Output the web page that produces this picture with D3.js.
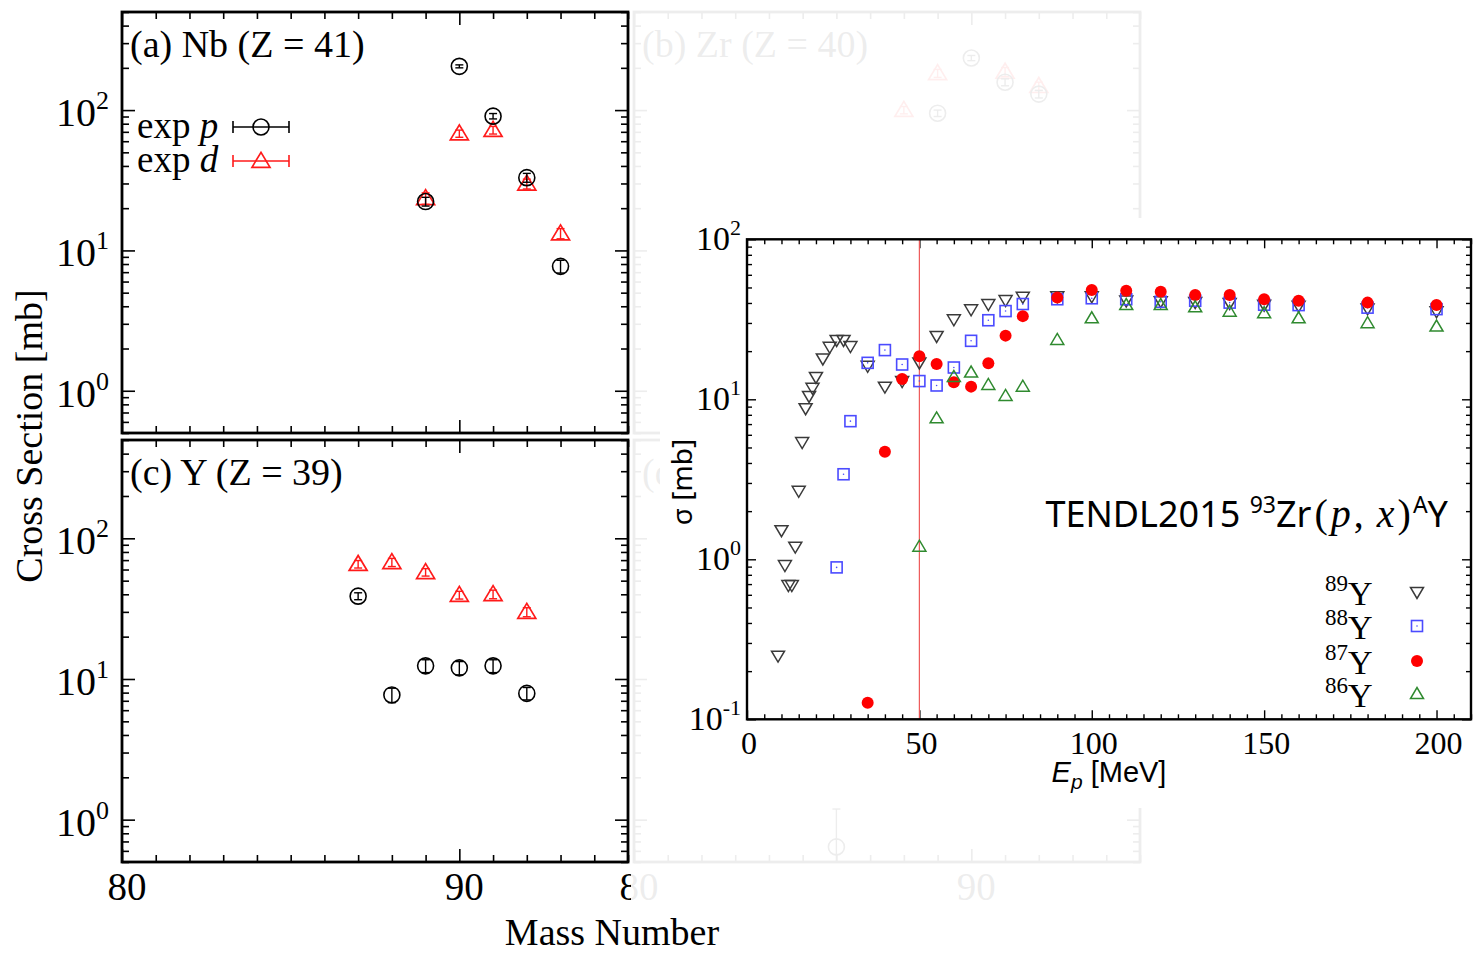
<!DOCTYPE html>
<html>
<head>
<meta charset="utf-8">
<script src="https://cdn.jsdelivr.net/npm/d3@7"></script>
<style>
  html, body { margin: 0; padding: 0; background: #fff; }
  svg { display: block; }
</style>
</head>
<body>
<svg id="fig" width="1474" height="954"></svg>
<script>
// ---------------- measured cross sections (mb) vs mass number ----------------
const massNb = [89, 90, 91, 92, 93];
const nbProton = [22.3, 205, 90.5, 33, 7.7];
const nbProtonErr = [1.6, 5, 4, 2.4, 0.8];
const nbDeuteron = [23.5, 68, 72, 29.8, 13.2];
const nbDeuteronErr = [2.2, 4, 4.5, 2.4, 1.1];

const massZrProton = [89, 90, 91, 92];
const zrProton = [95, 235, 158, 130];
const zrProtonErr = [5, 10, 9, 8];
const massZrDeuteron = [88, 89, 91, 92];
const zrDeuteron = [100, 183, 187, 148];
const zrDeuteronErr = [6, 12, 14, 10];

const massY = [87, 88, 89, 90, 91, 92];
const yProton = [38.8, 7.7, 12.4, 12.0, 12.4, 7.9];
const yProtonErr = [2.2, 0.9, 1.3, 1.3, 1.3, 0.8];
const yDeuteron = [65.5, 67.5, 57.4, 39.5, 40, 29.9];
const yDeuteronErr = [4, 4.5, 3.5, 2.5, 2.8, 2.2];

const massSr = [86];
const srProton = [0.64];
const srProtonErr = [0.55];

const massTickLabels = [80, 90];

// ---------------- TENDL-2015 93Zr(p,x)AY excitation functions ----------------
const energy89 = [9, 10, 11, 12, 13, 14, 15, 16, 17, 18, 19, 20, 22, 24, 26, 28, 30, 35, 40, 45, 50,
                  55, 60, 65, 70, 75, 80, 90, 100, 110, 120, 130, 140, 150, 160, 180, 200];
const sigma89 = [0.25, 1.52, 0.92, 0.69, 0.69, 1.20, 2.68, 5.4, 8.8, 10.5, 11.8, 13.8, 18.0, 21.3, 23.5, 23.5, 21.5, 16.2, 12.0, 13.0, 17.0,
                 24.9, 31.6, 36.5, 39.4, 41.7, 43.7, 44, 44, 41.5, 41, 40.5, 40, 39, 38.5, 37, 35.5];

const energy88 = [26, 28, 30, 35, 40, 45, 50, 55, 60, 65, 70, 75, 80, 90, 100, 110, 120, 130, 140, 150, 160, 180, 200];
const sigma88 = [0.89, 3.4, 7.3, 16.9, 20.3, 16.5, 13.0, 12.2, 15.8, 23.2, 31.2, 35.6, 39.4, 42.2, 42.8, 42.2, 40.7, 41.3, 40.2, 39.0, 38.8, 37.4, 36.6];

const energy87 = [35, 40, 45, 50, 55, 60, 65, 70, 75, 80, 90, 100, 110, 120, 130, 140, 150, 160, 180, 200];
const sigma87 = [0.127, 4.7, 13.4, 18.6, 16.6, 12.8, 12.0, 16.8, 25.0, 33.1, 43.2, 48.2, 47.7, 47.0, 44.9, 44.9, 42.2, 41.3, 40.2, 38.8];

const energy86 = [50, 55, 60, 65, 70, 75, 80, 90, 100, 110, 120, 130, 140, 150, 160, 180, 200];
const sigma86 = [1.2, 7.6, 13.8, 14.7, 12.3, 10.5, 12.0, 23.5, 32.1, 38.8, 38.8, 37.6, 35.3, 34.5, 32.1, 29.9, 28.5];

const energyTickLabels = [0, 50, 100, 150, 200];
const sigmaDecades = [-1, 0, 1, 2];
const cutEnergy = 50;

// ---------------- drawing ----------------
const SERIF = '"Liberation Serif", "Times New Roman", serif';
const SANS = '"Noto Sans", "Open Sans", sans-serif';
const svg = d3.select('#fig');

const xLeft = d3.scaleLinear().domain([80, 95]).range([122, 628]);
const xRight = d3.scaleLinear().domain([80, 95]).range([634, 1140]);
const yUpper = d3.scaleLog().domain([0.5, 500]).range([433, 12]);
const yLower = d3.scaleLog().domain([0.5, 500]).range([862, 440]);

function logMinor(domain) {
  const out = [];
  const lo = Math.floor(Math.log10(domain[0])), hi = Math.ceil(Math.log10(domain[1]));
  for (let e = lo; e <= hi; e++) for (let k = 2; k <= 9; k++) {
    const v = k * Math.pow(10, e);
    if (v >= domain[0] && v <= domain[1]) out.push(v);
  }
  return out;
}
function logMajor(domain) {
  const out = [];
  const lo = Math.floor(Math.log10(domain[0])), hi = Math.ceil(Math.log10(domain[1]));
  for (let e = lo; e <= hi; e++) {
    const v = Math.pow(10, e);
    if (v >= domain[0] * 0.9999 && v <= domain[1] * 1.0001) out.push(v);
  }
  return out;
}

// ticks on all four sides, pointing inward
function tickSet(g, x, y, xMajor, xMinor, yMajor, yMinor, lenMajor, lenMinor, width) {
  const [x0, x1] = x.range();
  const [yb, yt] = y.range();
  const place = (axis, tx, ty) => {
    const a = g.append('g').attr('transform', `translate(${tx},${ty})`).call(axis);
    a.select('.domain').remove();
    a.selectAll('text').remove();
    a.selectAll('line').attr('stroke', '#000').attr('stroke-width', width);
  };
  [[xMajor, lenMajor], [xMinor, lenMinor]].forEach(([vals, len]) => {
    place(d3.axisBottom(x).tickValues(vals).tickSize(-len).tickFormat(''), 0, yb);
    place(d3.axisTop(x).tickValues(vals).tickSize(-len).tickFormat(''), 0, yt);
  });
  [[yMajor, lenMajor], [yMinor, lenMinor]].forEach(([vals, len]) => {
    place(d3.axisLeft(y).tickValues(vals).tickSize(-len).tickFormat(''), x0, 0);
    place(d3.axisRight(y).tickValues(vals).tickSize(-len).tickFormat(''), x1, 0);
  });
}

function powerLabel(g, xr, yy, exp, size, supSize, dyMain, dySup) {
  const t = g.append('text').attr('x', xr).attr('y', yy + dyMain)
    .attr('text-anchor', 'end').attr('font-family', SERIF).attr('font-size', size).attr('fill', '#000');
  t.append('tspan').text('10');
  t.append('tspan').attr('font-size', supSize).attr('dy', -dySup).text(exp);
}

function openCircle(g, cx, cy, color) {
  g.append('circle').attr('cx', cx).attr('cy', cy).attr('r', 8)
    .attr('fill', 'none').attr('stroke', color).attr('stroke-width', 1.6);
}
function openTriangle(g, cx, cy, color, w, h, sw) {
  g.append('path')
    .attr('d', `M${cx - w / 2},${cy + h * 0.42}L${cx + w / 2},${cy + h * 0.42}L${cx},${cy - h * 0.58}Z`)
    .attr('fill', 'none').attr('stroke', color).attr('stroke-width', sw).attr('stroke-linejoin', 'miter');
}
function vErrorBar(g, cx, y, v, err, color, clipTop, clipBottom) {
  const ya = Math.max(clipTop, y(v + err));
  const lower = v - err > 0 ? y(v - err) : clipBottom;
  const yb = Math.min(clipBottom, lower);
  g.append('line').attr('x1', cx).attr('x2', cx).attr('y1', ya).attr('y2', yb)
    .attr('stroke', color).attr('stroke-width', 1.4);
  [ya, yb].forEach(yy => {
    if (yy > clipTop && yy < clipBottom)
      g.append('line').attr('x1', cx - 4).attr('x2', cx + 4).attr('y1', yy).attr('y2', yy)
        .attr('stroke', color).attr('stroke-width', 1.4);
  });
}

function massPanel(x, y, title, proton, deuteron, showYLabels, showXLabels) {
  const g = svg.append('g');
  const [yb, yt] = y.range();
  const ints = d3.range(80, 96);
  tickSet(g, x, y, [80, 90], ints.filter(v => v % 10 !== 0),
          logMajor(y.domain()), logMinor(y.domain()), 13, 7, 1.6);
  g.append('rect').attr('x', x.range()[0]).attr('y', yt)
    .attr('width', x.range()[1] - x.range()[0]).attr('height', yb - yt)
    .attr('fill', 'none').attr('stroke', '#000').attr('stroke-width', 2.8);
  g.append('text').attr('x', x.range()[0] + 8).attr('y', yt + 45)
    .attr('font-family', SERIF).attr('font-size', 38).attr('fill', '#000').text(title);

  if (showYLabels) {
    logMajor(y.domain()).forEach(v => powerLabel(g, x.range()[0] - 13, y(v), String(Math.round(Math.log10(v))), 40, 26, 16, 17));
  }
  if (showXLabels) {
    massTickLabels.forEach(m => g.append('text').attr('x', x(m) + 5).attr('y', 900)
      .attr('text-anchor', 'middle').attr('font-family', SERIF).attr('font-size', 39).attr('fill', '#000').text(m));
  }
  if (deuteron) deuteron.mass.forEach((m, i) => {
    openTriangle(g, x(m), y(deuteron.v[i]), '#ff1a1a', 18, 15, 1.7);
    vErrorBar(g, x(m), y, deuteron.v[i], deuteron.e[i], '#ff1a1a', yt, yb);
  });
  if (proton) proton.mass.forEach((m, i) => {
    openCircle(g, x(m), y(proton.v[i]), '#000');
    vErrorBar(g, x(m), y, proton.v[i], proton.e[i], '#000', yt, yb);
  });
  return g;
}

// panels (b) and (d) first so the fade can sit over them
massPanel(xRight, yUpper, '(b) Zr (Z = 40)',
  { mass: massZrProton, v: zrProton, e: zrProtonErr },
  { mass: massZrDeuteron, v: zrDeuteron, e: zrDeuteronErr }, false, false);
massPanel(xRight, yLower, '(d) Sr (Z = 38)',
  { mass: massSr, v: srProton, e: srProtonErr }, null, false, true);

// fade the right-hand column
svg.append('rect').attr('x', 631).attr('y', 0).attr('width', 530).attr('height', 912)
  .attr('fill', '#fff').attr('opacity', 0.93);

massPanel(xLeft, yUpper, '(a) Nb (Z = 41)',
  { mass: massNb, v: nbProton, e: nbProtonErr },
  { mass: massNb, v: nbDeuteron, e: nbDeuteronErr }, true, false);
massPanel(xLeft, yLower, '(c) Y (Z = 39)',
  { mass: massY, v: yProton, e: yProtonErr },
  { mass: massY, v: yDeuteron, e: yDeuteronErr }, true, true);

// legend of panel (a)
const leg = svg.append('g');
[['p', '#000', 127], ['d', '#ff1a1a', 161]].forEach(([sym, col, ly]) => {
  const t = leg.append('text').attr('x', 137).attr('y', ly + 11)
    .attr('font-family', SERIF).attr('font-size', 37).attr('fill', '#000');
  t.append('tspan').text('exp ');
  t.append('tspan').attr('font-style', 'italic').text(sym);
  leg.append('line').attr('x1', 233).attr('x2', 289).attr('y1', ly).attr('y2', ly).attr('stroke', col).attr('stroke-width', 1.6);
  [233, 289].forEach(xx => leg.append('line').attr('x1', xx).attr('x2', xx).attr('y1', ly - 6).attr('y2', ly + 6)
    .attr('stroke', col).attr('stroke-width', 1.6));
  if (sym === 'p') openCircle(leg, 261, ly, col);
  else openTriangle(leg, 261, ly, col, 18, 15, 1.7);
});

// shared axis titles
svg.append('text').attr('x', 612).attr('y', 945).attr('text-anchor', 'middle')
  .attr('font-family', SERIF).attr('font-size', 38).attr('fill', '#000').text('Mass Number');
svg.append('text').attr('transform', 'translate(42,436) rotate(-90)').attr('text-anchor', 'middle')
  .attr('font-family', SERIF).attr('font-size', 38).attr('fill', '#000').text('Cross Section [mb]');

// ---------------- inset: TENDL excitation functions ----------------
const ins = svg.append('g');
ins.append('rect').attr('x', 660).attr('y', 218).attr('width', 814).attr('height', 590).attr('fill', '#fff');

const xE = d3.scaleLinear().domain([0, 210]).range([747, 1471]);
const yS = d3.scaleLog().domain([0.1, 100]).range([719.3, 239.3]);
const [iyb, iyt] = yS.range();

tickSet(ins, xE, yS, d3.range(0, 211, 50), d3.range(0, 211, 5).filter(v => v % 50 !== 0),
        logMajor(yS.domain()), logMinor(yS.domain()), 9, 5, 1.4);

ins.append('line').attr('x1', xE(cutEnergy)).attr('x2', xE(cutEnergy)).attr('y1', iyt).attr('y2', iyb)
  .attr('stroke', '#ee5a5a').attr('stroke-width', 1.2);

ins.append('rect').attr('x', xE.range()[0]).attr('y', iyt)
  .attr('width', xE.range()[1] - xE.range()[0]).attr('height', iyb - iyt)
  .attr('fill', 'none').attr('stroke', '#000').attr('stroke-width', 2.4);

energyTickLabels.forEach(e => ins.append('text').attr('x', xE(e) + 2).attr('y', 754)
  .attr('text-anchor', 'middle').attr('font-family', SERIF).attr('font-size', 32).attr('fill', '#000').text(e));
sigmaDecades.forEach(d => powerLabel(ins, 741, yS(Math.pow(10, d)), String(d), 34, 22, 11, 15));

const xl = ins.append('text').attr('x', 1109).attr('y', 782).attr('text-anchor', 'middle')
  .attr('font-family', '"Liberation Sans", Arial, sans-serif').attr('font-size', 29).attr('fill', '#000');
xl.append('tspan').attr('font-style', 'italic').text('E');
xl.append('tspan').attr('font-style', 'italic').attr('font-size', 21).attr('dy', 7).text('p');
xl.append('tspan').attr('dy', -7).text(' [MeV]');

ins.append('text').attr('transform', 'translate(692,482) rotate(-90)').attr('text-anchor', 'middle')
  .attr('font-family', SANS).attr('font-size', 28).attr('fill', '#000').text('σ [mb]');

const ttl = ins.append('text').attr('x', 1448).attr('y', 527).attr('text-anchor', 'end')
  .attr('font-family', SANS).attr('font-size', 36).attr('fill', '#000');
ttl.append('tspan').text('TENDL2015 ');
ttl.append('tspan').attr('font-size', 23).attr('dy', -14).text('93');
ttl.append('tspan').attr('dy', 14).text('Zr');
const mathPart = [['(', false], ['p', true], [', ', false], ['x', true], [')', false]];
mathPart.forEach(([s, it]) => ttl.append('tspan').attr('font-family', SERIF).attr('font-size', 40)
  .attr('font-style', it ? 'italic' : 'normal').attr('dx', 3).text(s));
ttl.append('tspan').attr('font-size', 23).attr('dy', -14).attr('dx', 2).text('A');
ttl.append('tspan').attr('dy', 14).text('Y');

// marker shapes for the four residual nuclei
const markers = {
  down: (g, cx, cy) => g.append('path')
    .attr('d', `M${cx - 6.5},${cy - 4.5}L${cx + 6.5},${cy - 4.5}L${cx},${cy + 6.5}Z`)
    .attr('fill', 'none').attr('stroke', '#3a3a3a').attr('stroke-width', 1.5),
  square: (g, cx, cy) => {
    g.append('rect').attr('x', cx - 5.5).attr('y', cy - 5.5).attr('width', 11).attr('height', 11)
      .attr('fill', 'none').attr('stroke', '#4b4bff').attr('stroke-width', 1.6);
    g.append('circle').attr('cx', cx).attr('cy', cy).attr('r', 0.8).attr('fill', '#4b4bff');
  },
  dot: (g, cx, cy) => g.append('circle').attr('cx', cx).attr('cy', cy).attr('r', 6).attr('fill', '#ff0000'),
  up: (g, cx, cy) => g.append('path')
    .attr('d', `M${cx - 6.5},${cy + 4.5}L${cx + 6.5},${cy + 4.5}L${cx},${cy - 6.5}Z`)
    .attr('fill', 'none').attr('stroke', '#2f8a2f').attr('stroke-width', 1.5)
};

const nuclides = [
  { mass: '89', e: energy89, s: sigma89, m: markers.down, ly: 592 },
  { mass: '88', e: energy88, s: sigma88, m: markers.square, ly: 626 },
  { mass: '87', e: energy87, s: sigma87, m: markers.dot, ly: 661 },
  { mass: '86', e: energy86, s: sigma86, m: markers.up, ly: 694 }
];

const pts = ins.append('g');
nuclides.forEach(n => n.e.forEach((e, i) => n.m(pts, xE(e), yS(n.s[i]))));

nuclides.forEach(n => {
  const t = ins.append('text').attr('x', 1325).attr('y', n.ly + 13)
    .attr('font-family', SERIF).attr('font-size', 34).attr('fill', '#000');
  t.append('tspan').attr('font-size', 23).attr('dy', -14).text(n.mass);
  t.append('tspan').attr('dy', 14).text('Y');
  n.m(ins, 1417, n.ly);
});
</script>
</body>
</html>
